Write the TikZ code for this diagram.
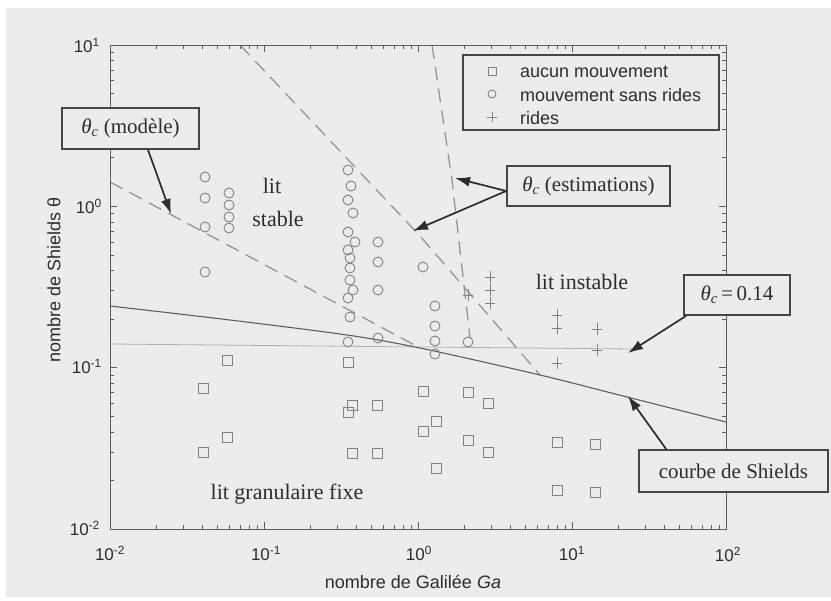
\documentclass[tikz,border=0pt]{standalone}
\usepackage{fontspec}
\setmainfont{Liberation Serif}
\setsansfont{Liberation Sans}
\usetikzlibrary{arrows.meta,calc}
\definecolor{bgc}{RGB}{236,236,236}
\definecolor{axc}{RGB}{95,95,95}
\definecolor{dshc}{RGB}{150,150,150}
\definecolor{mkc}{RGB}{130,130,130}
\definecolor{boxc}{RGB}{70,70,70}
\definecolor{txtc}{RGB}{45,45,45}
\definecolor{hlc}{RGB}{175,175,175}
\begin{document}
\begin{tikzpicture}[x=1pt,y=-1pt,
  axisline/.style={draw=axc,line width=0.9pt},
  tickline/.style={draw=axc,line width=0.7pt},
  dashcurve/.style={draw=dshc,line width=1.3pt,dash pattern=on 14pt off 8pt},
  shieldsline/.style={draw=axc,line width=1.1pt},
  hline/.style={draw=hlc,line width=0.8pt},
  mk/.style={draw=mkc,line width=0.9pt},
  regionlbl/.style={text=txtc,font=\fontsize{22}{26}\selectfont,inner sep=0pt},
  ticklbl/.style={text=txtc,font=\sffamily\fontsize{17}{20}\selectfont,inner sep=0pt},
  axislbl/.style={text=txtc,font=\sffamily\fontsize{18}{21}\selectfont,inner sep=0pt},
  legtxt/.style={text=txtc,font=\sffamily\fontsize{18}{21}\selectfont,inner sep=0pt,anchor=west},
  callout/.style={draw=boxc,line width=1.6pt,fill=bgc,text=txtc,
     font=\fontsize{21}{25}\selectfont,inner sep=0pt},
  pointer/.style={draw=txtc,line width=1.7pt,-{Latex[length=15pt,width=10pt]}}
]
\useasboundingbox (0,0) rectangle (831,601);
\fill[white] (0,0) rectangle (831,601);
\fill[bgc] (6,8) rectangle (831,597);

% ---- minor / major ticks
\foreach \d in {0,1,2,3}{
  \foreach \k in {2,...,9}{
    \pgfmathsetmacro\xx{110+154*(\d+log10(\k))}
    \draw[tickline] (\xx,529) -- (\xx,525);
    \draw[tickline] (\xx,45) -- (\xx,49);
  }
}
\foreach \d in {0,1,2}{
  \foreach \k in {2,...,9}{
    \pgfmathsetmacro\yy{529-161.33*(\d+log10(\k))}
    \draw[tickline] (110,\yy) -- (114,\yy);
    \draw[tickline] (726,\yy) -- (722,\yy);
  }
}
\foreach \d in {0,1,2,3,4}{
  \pgfmathsetmacro\xx{110+154*\d}
  \draw[tickline] (\xx,529) -- (\xx,522);
  \draw[tickline] (\xx,45) -- (\xx,52);
}
\foreach \d in {0,1,2,3}{
  \pgfmathsetmacro\yy{529-161.33*\d}
  \draw[tickline] (110,\yy) -- (117,\yy);
  \draw[tickline] (726,\yy) -- (719,\yy);
}

% ---- horizontal theta = 0.14 line
\draw[hline] (110,344) -- (632,349);

% ---- dashed critical curves
\draw[dashcurve] (110,182) -- (420,348);
\draw[dashcurve] (240,45) -- (420,236) -- (540,375);
\draw[dashcurve] (432,45) -- (452,180) -- (470,338);

% ---- Shields curve
\draw[shieldsline] plot[smooth] coordinates {(110,306) (230,320) (347,335) (420,348) (540,375) (627,397) (726,422)};

% ---- axes box
\draw[axisline] (110,45) rectangle (726,529);

% ---- circles (mouvement sans rides)
\foreach \x/\y in {205/177,205/198,205/227,205/272,
  229/193,229/205,229/217,229/228,
  348/170,351/186,348/200,353/213,348/232,355/242,348/250,350/258,350/268,350/280,353/290,348/298,350/317,348/342,
  378/242,378/262,378/290,378/338,
  423/267,
  435/306,435/326,435/341,435/354,
  468/342}{
  \draw[mk] (\x,\y) circle (5);
}

% ---- squares (aucun mouvement)
\foreach \x/\y in {227/360,203/388,227/437,203/452,
  348/362,352/405,348/412,352/453,
  377/405,377/453,
  423/391,423/431,
  436/421,436/468,
  468/392,468/440,
  488/403,488/452,
  557/442,557/490,
  595/444,595/492}{
  \draw[mk] (\x-5,\y-5) rectangle (\x+5,\y+5);
}

% ---- plus (rides)
\foreach \x/\y in {490/277,490/290,490/303,468/295,
  557/315,557/328,557/363,
  597/329,597/350}{
  \draw[mk] (\x-5,\y) -- (\x+5,\y) (\x,\y-6) -- (\x,\y+6);
}

% ---- tick labels
\node[ticklbl,anchor=base east] (y1) at (100,53) {10\textsuperscript{1}};
\node[ticklbl,anchor=base east] (y0) at (102,214) {10\textsuperscript{0}};
\node[ticklbl,anchor=base east] (ym1) at (102,374) {10\textsuperscript{-1}};
\node[ticklbl,anchor=base east] (ym2) at (100,536) {10\textsuperscript{-2}};
\node[ticklbl,anchor=base] (xm2) at (110,561) {10\textsuperscript{-2}};
\node[ticklbl,anchor=base] (xm1) at (266,561) {10\textsuperscript{-1}};
\node[ticklbl,anchor=base] (x0) at (419,561) {10\textsuperscript{0}};
\node[ticklbl,anchor=base] (x1) at (572,561) {10\textsuperscript{1}};
\node[ticklbl,anchor=base] (x2) at (728,562) {10\textsuperscript{2}};

% ---- axis labels
\node[axislbl] (xlab) at (413,582) {nombre de Galilée \textit{Ga}};
\node[axislbl,rotate=90] (ylab) at (54,280) {nombre de Shields θ};

% ---- region labels
\node[regionlbl] (lit1) at (272,186) {lit};
\node[regionlbl] (stable) at (278,219) {stable};
\node[regionlbl] (instable) at (582,282) {lit instable};
\node[regionlbl] (fixe) at (287,494) {lit granulaire fixe};

% ---- legend
\node[draw=boxc,line width=1.1pt,fill=bgc,minimum width=256pt,minimum height=75pt,inner sep=0pt] (leg) at (591,92.5) {};
\draw[mk] (488,67) rectangle (496,75);
\draw[mk] (492,94) circle (4);
\draw[mk] (487,117) -- (497,117) (492,112) -- (492,122);
\node[legtxt] (l1) at (520,72) {aucun mouvement};
\node[legtxt] (l2) at (520,95) {mouvement sans rides};
\node[legtxt] (l3) at (520,118) {rides};

% ---- callout boxes
\node[callout,minimum width=137pt,minimum height=41pt] (bmod) at (130.5,128.5) {\textit{θ}\textsubscript{\textit{c}} (modèle)};
\node[callout,minimum width=163pt,minimum height=40pt] (best) at (588.5,186) {\textit{θ}\textsubscript{\textit{c}} (estimations)};
\node[callout,minimum width=106pt,minimum height=40pt] (bval) at (737,295) {\textit{θ}\textsubscript{\textit{c}}\,=\,0.14};
\node[callout,minimum width=189pt,minimum height=42pt] (bshi) at (733.5,471) {courbe de Shields};

% ---- arrow tips
\coordinate (tmod) at (171,214);
\coordinate (testa) at (455,178);
\coordinate (testb) at (413,231);
\coordinate (tval) at (628,353);
\coordinate (tshi) at (628,396);

\draw[pointer] ([xshift=17.5pt]bmod.south) -- (tmod);
\draw[pointer] ([yshift=-5pt]best.west) -- (testa);
\draw[pointer] ([yshift=-5pt]best.west) -- (testb);
\draw[pointer] ([xshift=3pt]bval.south west) -- (tval);
\draw[pointer] ([xshift=28pt]bshi.north west) -- (tshi);
\end{tikzpicture}
\end{document}
